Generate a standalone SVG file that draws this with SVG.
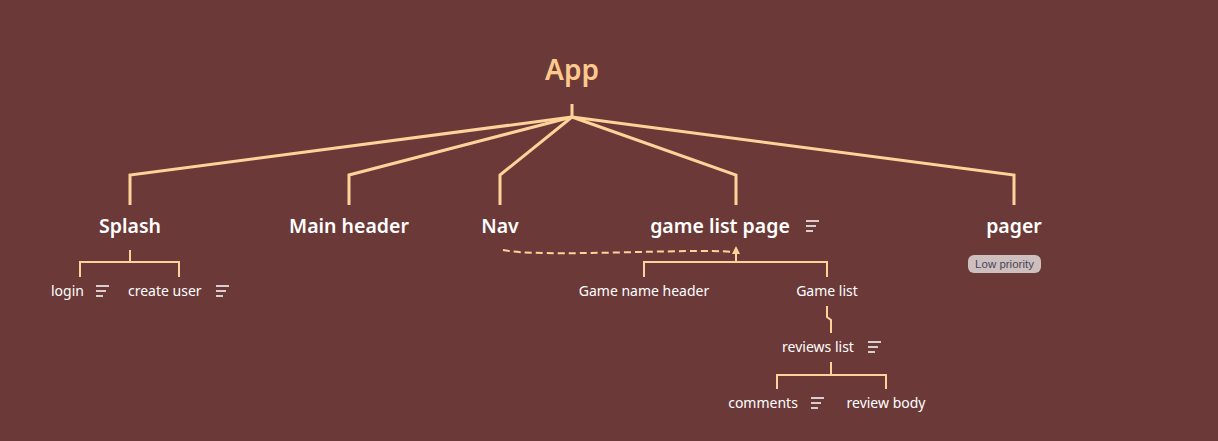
<svg xmlns="http://www.w3.org/2000/svg" width="1218" height="441" viewBox="0 0 1218 441">
<style>
.bg{fill:#6b3a38}
.ln{fill:none;stroke:#ffd29a;stroke-width:3;stroke-linejoin:miter}
.ln2{fill:none;stroke:#ffd29a;stroke-width:2}
.title{font-family:"Noto Sans",sans-serif;font-weight:600;font-size:28px;fill:#ffc98e}
.node{font-family:"Noto Sans",sans-serif;font-weight:600;font-size:19.5px;fill:#ffffff}
.sub{font-family:"Noto Sans",sans-serif;font-size:14px;fill:#ffffff}
.ico{stroke:#ffffff;stroke-width:1.5}
.badge{fill:#cdbfbe}
.btxt{font-family:"Liberation Sans",Arial,sans-serif;font-size:11.5px;fill:#4a4658}
</style>
<rect class="bg" x="0" y="0" width="1218" height="441"/>
<defs>
<g id="note">
<line class="ico" x1="0" y1="0" x2="13" y2="0"/>
<line class="ico" x1="0" y1="5" x2="10" y2="5"/>
<line class="ico" x1="0" y1="10" x2="7" y2="10"/>
</g>
</defs>
<g id="connectors">
<path class="ln" d="M572,104 V117"/>
<path class="ln" d="M572,117 L130,175 V205"/>
<path class="ln" d="M572,117 L349,175 V205"/>
<path class="ln" d="M572,117 L500,175 V205"/>
<path class="ln" d="M572,117 L736,175 V205"/>
<path class="ln" d="M572,117 L1014,175 V205"/>
<path class="ln2" d="M130,250 V262 M80,277 V262 H179 V277"/>
<path class="ln2" d="M736,252 V262 M644,277 V262 H827 V277"/>
<path class="ln2" d="M827,306 V317 L831,320 V333"/>
<path class="ln2" d="M831,362 V375 M777,389 V375 H886 V389"/>
<path d="M503,250 C540,258 690,248 733,252" fill="none" stroke="#ffd29a" stroke-width="2" stroke-dasharray="7,4"/>
<polygon points="736,246 732,254 740,254" fill="#ffd29a"/>
</g>
<g id="app"><text class="title" x="572" y="80" text-anchor="middle">App</text></g>
<g id="splash"><text class="node" x="130" y="233" text-anchor="middle">Splash</text></g>
<g id="main-header"><text class="node" x="349" y="233" text-anchor="middle">Main header</text></g>
<g id="nav"><text class="node" x="500" y="233" text-anchor="middle">Nav</text></g>
<g id="game-list-page"><text class="node" x="720" y="233" text-anchor="middle">game list page</text><use href="#note" x="806" y="221"/></g>
<g id="pager"><text class="node" x="1014" y="233" text-anchor="middle">pager</text>
<rect class="badge" x="968" y="255" width="73" height="18" rx="6"/>
<text class="btxt" x="1004.5" y="268" text-anchor="middle">Low priority</text></g>
<g id="login"><text class="sub" x="51" y="296">login</text><use href="#note" x="96" y="286"/></g>
<g id="create-user"><text class="sub" x="128" y="296">create user</text><use href="#note" x="216" y="286"/></g>
<g id="game-name-header"><text class="sub" x="644" y="296" text-anchor="middle">Game name header</text></g>
<g id="game-list"><text class="sub" x="827" y="296" text-anchor="middle">Game list</text></g>
<g id="reviews-list"><text class="sub" x="818" y="352" text-anchor="middle">reviews list</text><use href="#note" x="868" y="342"/></g>
<g id="comments"><text class="sub" x="763" y="408" text-anchor="middle">comments</text><use href="#note" x="811" y="398"/></g>
<g id="review-body"><text class="sub" x="886" y="408" text-anchor="middle">review body</text></g>
</svg>
